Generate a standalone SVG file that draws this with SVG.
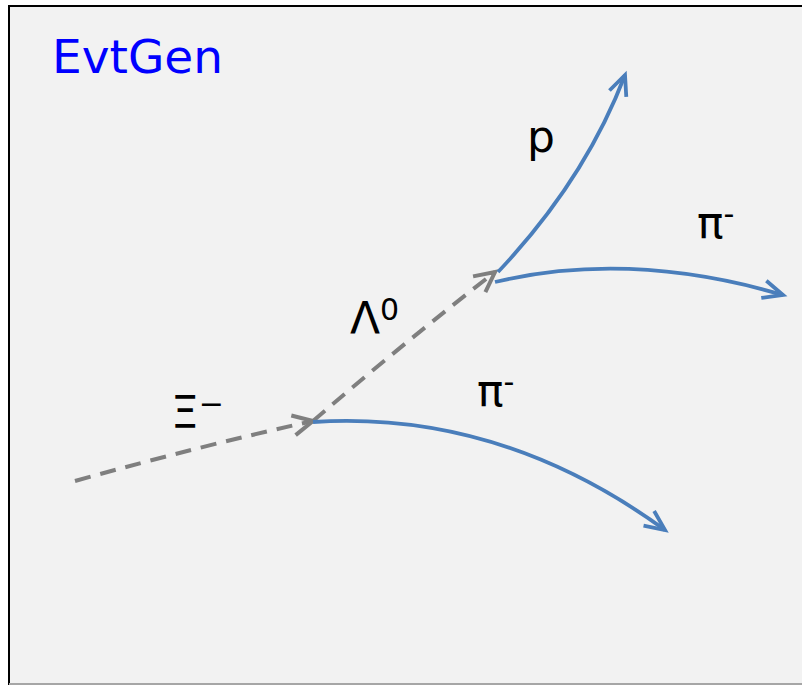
<svg xmlns="http://www.w3.org/2000/svg" width="802" height="685" viewBox="0 0 802 685">
<style>
.t{font-family:"DejaVu Sans","Verdana",sans-serif;fill:#000}
.dash{fill:none;stroke:#7f7f7f;stroke-width:4;stroke-dasharray:16,10}
.blue{fill:none;stroke:#4a7ebb;stroke-width:3.8}
</style>
<defs>
<marker id="ag" markerWidth="10" markerHeight="10" refX="8" refY="5" orient="auto" markerUnits="userSpaceOnUse" viewBox="0 0 10 10" overflow="visible">
<path d="M-12,-5 L8,5 L-12,15" fill="none" stroke="#7f7f7f" stroke-width="4"/>
</marker>
<marker id="ab" markerWidth="10" markerHeight="10" refX="8" refY="5" orient="auto" markerUnits="userSpaceOnUse" viewBox="0 0 10 10" overflow="visible">
<path d="M-12,-4 L8,5 L-12,14" fill="none" stroke="#4a7ebb" stroke-width="3.8"/>
</marker>
</defs>
<rect x="0" y="0" width="802" height="685" fill="#ffffff"/>
<rect x="9" y="6" width="800" height="678" fill="#f2f2f2" stroke="#000" stroke-width="2"/>
<line x1="9" y1="684" x2="802" y2="684" stroke="#a6a6a6" stroke-width="2"/>
<g id="connectors">
<path class="dash" d="M75,481 Q200,446 313,421" marker-end="url(#ag)"/>
<path class="dash" d="M313,421 Q400,346 495,272" marker-end="url(#ag)"/>
<path class="blue" d="M498,272 Q585,180 625,75" marker-end="url(#ab)"/>
<path class="blue" d="M495,282 Q630,250 783,295" marker-end="url(#ab)"/>
<path class="blue" d="M313,422 Q500,410 665,530" marker-end="url(#ab)"/>
</g>
<g id="title"><text class="t" x="52" y="73" font-size="47" style="fill:#0000ff">EvtGen</text></g>
<g id="xi"><text class="t" x="171" y="428" font-size="44">Ξ<tspan font-size="30" dy="-14">−</tspan></text></g>
<g id="lambda"><text class="t" x="350" y="334" font-size="44">Λ<tspan font-size="30" dy="-14">0</tspan></text></g>
<g id="p"><text class="t" x="527" y="152" font-size="44">p</text></g>
<g id="pi1"><text class="t" x="697" y="238" font-size="44">π<tspan font-size="30" dy="-14">-</tspan></text></g>
<g id="pi2"><text class="t" x="477" y="406" font-size="44">π<tspan font-size="30" dy="-14">-</tspan></text></g>
</svg>
